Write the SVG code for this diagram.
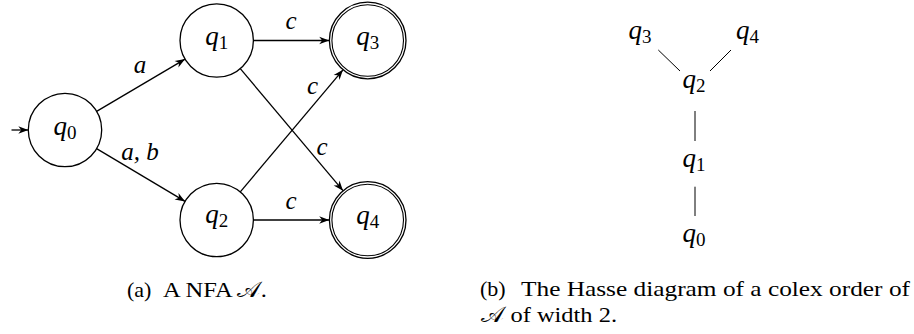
<svg xmlns="http://www.w3.org/2000/svg" width="914" height="334" viewBox="0 0 914 334">
  <style>
    .state { fill: #fff; stroke: #000; stroke-width: 1.3; }
    .acc { fill: none; stroke: #000; stroke-width: 1.1; }
    .edge { fill: none; stroke: #000; stroke-width: 1.3; }
    .hasse { fill: none; stroke: #000; stroke-width: 1; }
    .lbl { font-family: "Liberation Serif", serif; font-style: italic; font-size: 27px; fill: #000; }
    .lbl .sub { font-style: normal; font-size: 19px; }
    .elbl { font-family: "Liberation Serif", serif; font-style: italic; font-size: 25px; fill: #000; }
    .cap { font-family: "Liberation Serif", serif; font-size: 22px; fill: #000; }
  </style>
  <defs>
    <marker id="arrow" viewBox="-11 -5 12 10" refX="0" refY="0" markerWidth="12" markerHeight="10" markerUnits="userSpaceOnUse" orient="auto">
      <path d="M0,0 L-10,-3.8 L-7,0 L-10,3.8 Z" fill="#000"/>
    </marker>
  </defs>

  <!-- automaton (a) -->
  <g id="edges">
    <line class="edge" x1="11.5" y1="130" x2="28.3" y2="130" marker-end="url(#arrow)"/>
    <line class="edge" x1="96.6" y1="111.4" x2="185.1" y2="59.1" marker-end="url(#arrow)"/>
    <line class="edge" x1="96.6" y1="148.6" x2="185.1" y2="201.4" marker-end="url(#arrow)"/>
    <line class="edge" x1="253.4" y1="40.5" x2="329.2" y2="40.5" marker-end="url(#arrow)"/>
    <line class="edge" x1="253.4" y1="220" x2="329.2" y2="220" marker-end="url(#arrow)"/>
    <line class="edge" x1="240.3" y1="68.6" x2="343" y2="190.7" marker-end="url(#arrow)"/>
    <line class="edge" x1="240.3" y1="191.9" x2="343" y2="69.8" marker-end="url(#arrow)"/>
    <text class="elbl" x="140" y="73" text-anchor="middle">a</text>
    <text class="elbl" x="140" y="160" text-anchor="middle">a, b</text>
    <text class="elbl" x="291" y="29" text-anchor="middle">c</text>
    <text class="elbl" x="312.5" y="94" text-anchor="middle">c</text>
    <text class="elbl" x="322" y="155" text-anchor="middle">c</text>
    <text class="elbl" x="291" y="209" text-anchor="middle">c</text>
  </g>

  <g id="q0">
    <circle class="state" cx="65" cy="130" r="36.7"/>
    <text class="lbl" x="65" y="134.5" text-anchor="middle">q<tspan class="sub" dy="4">0</tspan></text>
  </g>
  <g id="q1">
    <circle class="state" cx="216.7" cy="40.5" r="36.7"/>
    <text class="lbl" x="216.7" y="44.5" text-anchor="middle">q<tspan class="sub" dy="4">1</tspan></text>
  </g>
  <g id="q2">
    <circle class="state" cx="216.7" cy="220" r="36.7"/>
    <text class="lbl" x="216.7" y="223" text-anchor="middle">q<tspan class="sub" dy="4">2</tspan></text>
  </g>
  <g id="q3">
    <circle class="state" cx="367.7" cy="40.5" r="38.3"/>
    <circle class="acc" cx="367.7" cy="40.5" r="35.8"/>
    <text class="lbl" x="367.7" y="45" text-anchor="middle">q<tspan class="sub" dy="4">3</tspan></text>
  </g>
  <g id="q4">
    <circle class="state" cx="367.7" cy="220" r="38.3"/>
    <circle class="acc" cx="367.7" cy="220" r="35.8"/>
    <text class="lbl" x="367.7" y="223.5" text-anchor="middle">q<tspan class="sub" dy="4">4</tspan></text>
  </g>

  <!-- Hasse diagram (b) -->
  <g id="hasse-edges">
    <line class="hasse" x1="658.3" y1="50" x2="680" y2="71"/>
    <line class="hasse" x1="731" y1="50" x2="710" y2="71"/>
    <line class="hasse" x1="695" y1="111" x2="695" y2="141"/>
    <line class="hasse" x1="695" y1="186.7" x2="695" y2="216"/>
  </g>
  <g id="h-q3"><text class="lbl" x="640" y="39" text-anchor="middle">q<tspan class="sub" dy="4">3</tspan></text></g>
  <g id="h-q4"><text class="lbl" x="747.5" y="39" text-anchor="middle">q<tspan class="sub" dy="4">4</tspan></text></g>
  <g id="h-q2"><text class="lbl" x="694" y="88" text-anchor="middle">q<tspan class="sub" dy="4">2</tspan></text></g>
  <g id="h-q1"><text class="lbl" x="694" y="167" text-anchor="middle">q<tspan class="sub" dy="4">1</tspan></text></g>
  <g id="h-q0"><text class="lbl" x="694" y="242" text-anchor="middle">q<tspan class="sub" dy="4">0</tspan></text></g>

  <!-- captions -->
  <g id="captions">
    <text class="cap" x="127" y="297">(a)</text>
    <text class="cap" x="163" y="297" textLength="104" lengthAdjust="spacingAndGlyphs">A NFA 𝒜.</text>
    <text class="cap" x="480" y="296">(b)</text>
    <text class="cap" x="521" y="296" textLength="389" lengthAdjust="spacingAndGlyphs">The Hasse diagram of a colex order of</text>
    <text class="cap" x="481" y="322" textLength="136" lengthAdjust="spacingAndGlyphs">𝒜 of width 2.</text>
  </g>
</svg>
